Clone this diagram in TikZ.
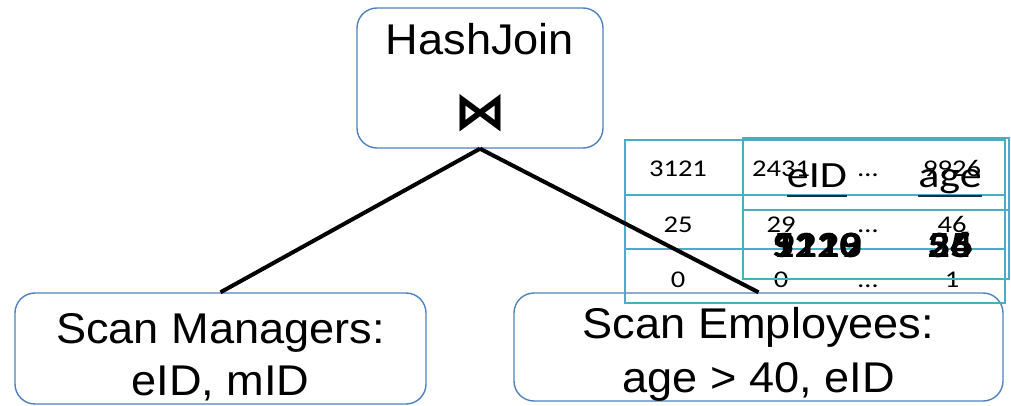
\documentclass[tikz,border=0pt]{standalone}
\usepackage{fontspec}
\setmainfont[FakeStretch=1.05]{Liberation Sans}
\newfontfamily\tabfont[FakeStretch=1.19]{Carlito}
\newfontfamily\symfont{DejaVu Sans}
\usetikzlibrary{positioning}
\definecolor{opblue}{RGB}{79,129,189}
\definecolor{tabteal}{RGB}{75,172,198}
\definecolor{ulteal}{RGB}{20,50,62}

\begin{document}
\begin{tikzpicture}[x=1pt,y=-1pt,
  opbox/.style={draw=opblue,line width=1.4pt,rounded corners=20pt,inner sep=0pt},
  optext/.style={anchor=base,inner sep=0pt,font=\fontsize{43}{50}\selectfont},
  cell/.style={anchor=base,inner sep=0pt,font=\tabfont\fontsize{24}{28}\selectfont},
  head/.style={anchor=base,inner sep=0pt,font=\tabfont\fontsize{37}{44}\selectfont},
  ghost/.style={anchor=base,inner sep=0pt,font=\tabfont\bfseries\fontsize{37}{44}\selectfont},
  tab/.style={draw=tabteal,line width=2pt}]
  \useasboundingbox (0,0) rectangle (1011,406);

  % operator boxes
  \node[opbox,minimum width=246,minimum height=140] (hj) at (480,78) {};
  \node[opbox,minimum width=411,minimum height=111] (mgr) at (220.5,348.5) {};
  \node[opbox,minimum width=489,minimum height=108] (emp) at (758.5,347) {};

  \node[optext] (hjname) at (480,55) {HashJoin};
  \node[anchor=base,inner sep=0pt,font=\symfont\bfseries\fontsize{52}{56}\selectfont] (hjsym) at (480,130) {⋈};
  \node[optext] (mgrtop) at (220.5,343) {Scan Managers:};
  \node[optext] (mgrbot) at (220.5,395) {eID, mID};
  \node[optext] (emptop) at (758.5,338) {Scan Employees:};
  \node[optext] (empbot) at (758.5,392) {age > 40, eID};

  % column table
  \draw[tab] (625,140) rectangle (1005,303);
  \draw[tab] (625,195) -- (1005,195);
  \draw[tab] (625,249) -- (1005,249);
  \node[cell] (a1) at (678,177) {3121};
  \node[cell] (a2) at (781,177) {2431};
  \node[cell] (a3) at (868,177) {…};
  \node[cell] (a4) at (952,177) {9926};
  \node[cell] (b1) at (678,232) {25};
  \node[cell] (b2) at (781,232) {29};
  \node[cell] (b3) at (868,232) {…};
  \node[cell] (b4) at (952,232) {46};
  \node[cell] (c1) at (678,287) {0};
  \node[cell] (c2) at (781,287) {0};
  \node[cell] (c3) at (868,287) {…};
  \node[cell] (c4) at (952,287) {1};

  % row table
  \draw[tab,line width=2.5pt] (743,138) rectangle (1009,279);
  \draw[tab,line width=2.5pt] (743,210) -- (1009,210);
  \node[head] (eidhd) at (817,187) {eID};
  \node[head] (agehd) at (950,187) {age};
  \draw[ulteal,line width=1.5pt] ([yshift=-9pt]eidhd.base west) -- ([yshift=-9pt]eidhd.base east);
  \draw[ulteal,line width=1.5pt] ([yshift=-9pt]agehd.base west) -- ([yshift=-9pt]agehd.base east);
  \foreach \v in {9120,1213,5119} \node[ghost] at (817,257) {\v};
  \foreach \v in {34,25,56} \node[ghost] at (950,257) {\v};

  \draw[line width=4pt] (hj.south) -- (mgr.north);
  \draw[line width=4pt] (hj.south) -- (emp.north);
\end{tikzpicture}
\end{document}
